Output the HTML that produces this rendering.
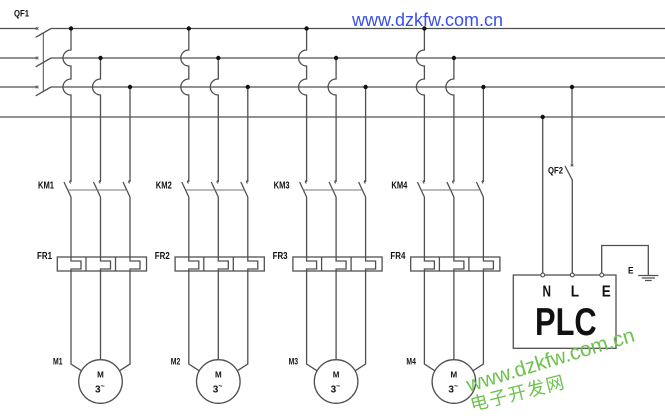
<!DOCTYPE html>
<html>
<head>
<meta charset="utf-8">
<style>
html,body{margin:0;padding:0;background:#fff;}
svg{display:block;}
text{font-family:"Liberation Sans","Noto Sans CJK SC",sans-serif;}
</style>
</head>
<body>
<svg width="665" height="416" viewBox="0 0 665 416" xmlns="http://www.w3.org/2000/svg">
<rect width="665" height="416" fill="#fff"/>

<!-- Bus lines with QF1 -->
<g stroke="#505050" stroke-width="1.3" fill="none">
  <path d="M0,28.5 H36 M51,28.5 H665"/>
  <path d="M0,58 H36 M51,58 H665"/>
  <path d="M0,87 H36 M51,87 H665"/>
  <path d="M0,117 H665"/>
  <path d="M35.7,37.3 L51,28.5 M35.7,66.8 L51,58 M35.7,95.8 L51,87"/>
  <path d="M43.3,33 V92" stroke-width="1"/>
  <path d="M35.8,27.2 l2.6,2.6 M38.4,27.2 l-2.6,2.6 M35.8,56.7 l2.6,2.6 M38.4,56.7 l-2.6,2.6 M35.8,85.7 l2.6,2.6 M38.4,85.7 l-2.6,2.6" stroke-width="1"/>
</g>
<text x="14" y="16.5" font-size="9" font-weight="bold" fill="#111" textLength="15" lengthAdjust="spacingAndGlyphs">QF1</text>

<g>
<g stroke="#505050" stroke-width="1.3" fill="none">
  <path d="M71,28.5 V50 A8,8 0 0 0 71,66 V79 A8,8 0 0 0 71,95 V182"/>
  <path d="M100.5,58 V79 A8,8 0 0 0 100.5,95 V182"/>
  <path d="M130,87 V182"/>
  <path d="M71,180.5 a1.3,1.3 0 0 0 0,2.6 M100.5,180.5 a1.3,1.3 0 0 0 0,2.6 M130,180.5 a1.3,1.3 0 0 0 0,2.6" stroke-width="1"/>
  <path d="M64,182 L71,197 M93.5,182 L100.5,197 M123,182 L130,197"/>
  <path d="M67.7,190 H126.7" stroke="#777" stroke-width="0.9"/>
  <path d="M71,197 V261 H81 V269 H71 V364 L81.5,370.8"/>
  <path d="M100.5,197 V261 H110.5 V269 H100.5 V359.7"/>
  <path d="M130,197 V261 H140 V269 H130 V364 L119.5,370.8"/>
  <rect x="57.3" y="257" width="89.2" height="14"/>
  <path d="M86,257 V271 M115.5,257 V271"/>
  <circle cx="100.5" cy="381.5" r="21.8"/>
</g>
<g fill="#111">
  <circle cx="71" cy="28.5" r="2.2"/>
  <circle cx="100.5" cy="58" r="2.2"/>
  <circle cx="130" cy="87" r="2.2"/>
</g>
<g fill="#111" font-weight="bold">
  <text x="38" y="188.5" font-size="10" textLength="16" lengthAdjust="spacingAndGlyphs">KM1</text>
  <text x="37" y="259" font-size="10" textLength="15" lengthAdjust="spacingAndGlyphs">FR1</text>
  <text x="53" y="364.5" font-size="9" textLength="9.5" lengthAdjust="spacingAndGlyphs">M1</text>
  <text x="100.5" y="377.5" font-size="8" text-anchor="middle">M</text>
  <text x="95" y="392.5" font-size="10">3<tspan dy="-4" font-size="7">~</tspan></text>
</g>
</g>

<g transform="translate(117.8,0)">
<g stroke="#505050" stroke-width="1.3" fill="none">
  <path d="M71,28.5 V50 A8,8 0 0 0 71,66 V79 A8,8 0 0 0 71,95 V182"/>
  <path d="M100.5,58 V79 A8,8 0 0 0 100.5,95 V182"/>
  <path d="M130,87 V182"/>
  <path d="M71,180.5 a1.3,1.3 0 0 0 0,2.6 M100.5,180.5 a1.3,1.3 0 0 0 0,2.6 M130,180.5 a1.3,1.3 0 0 0 0,2.6" stroke-width="1"/>
  <path d="M64,182 L71,197 M93.5,182 L100.5,197 M123,182 L130,197"/>
  <path d="M67.7,190 H126.7" stroke="#777" stroke-width="0.9"/>
  <path d="M71,197 V261 H81 V269 H71 V364 L81.5,370.8"/>
  <path d="M100.5,197 V261 H110.5 V269 H100.5 V359.7"/>
  <path d="M130,197 V261 H140 V269 H130 V364 L119.5,370.8"/>
  <rect x="57.3" y="257" width="89.2" height="14"/>
  <path d="M86,257 V271 M115.5,257 V271"/>
  <circle cx="100.5" cy="381.5" r="21.8"/>
</g>
<g fill="#111">
  <circle cx="71" cy="28.5" r="2.2"/>
  <circle cx="100.5" cy="58" r="2.2"/>
  <circle cx="130" cy="87" r="2.2"/>
</g>
<g fill="#111" font-weight="bold">
  <text x="38" y="188.5" font-size="10" textLength="16" lengthAdjust="spacingAndGlyphs">KM2</text>
  <text x="37" y="259" font-size="10" textLength="15" lengthAdjust="spacingAndGlyphs">FR2</text>
  <text x="53" y="364.5" font-size="9" textLength="9.5" lengthAdjust="spacingAndGlyphs">M2</text>
  <text x="100.5" y="377.5" font-size="8" text-anchor="middle">M</text>
  <text x="95" y="392.5" font-size="10">3<tspan dy="-4" font-size="7">~</tspan></text>
</g>
</g>

<g transform="translate(235.6,0)">
<g stroke="#505050" stroke-width="1.3" fill="none">
  <path d="M71,28.5 V50 A8,8 0 0 0 71,66 V79 A8,8 0 0 0 71,95 V182"/>
  <path d="M100.5,58 V79 A8,8 0 0 0 100.5,95 V182"/>
  <path d="M130,87 V182"/>
  <path d="M71,180.5 a1.3,1.3 0 0 0 0,2.6 M100.5,180.5 a1.3,1.3 0 0 0 0,2.6 M130,180.5 a1.3,1.3 0 0 0 0,2.6" stroke-width="1"/>
  <path d="M64,182 L71,197 M93.5,182 L100.5,197 M123,182 L130,197"/>
  <path d="M67.7,190 H126.7" stroke="#777" stroke-width="0.9"/>
  <path d="M71,197 V261 H81 V269 H71 V364 L81.5,370.8"/>
  <path d="M100.5,197 V261 H110.5 V269 H100.5 V359.7"/>
  <path d="M130,197 V261 H140 V269 H130 V364 L119.5,370.8"/>
  <rect x="57.3" y="257" width="89.2" height="14"/>
  <path d="M86,257 V271 M115.5,257 V271"/>
  <circle cx="100.5" cy="381.5" r="21.8"/>
</g>
<g fill="#111">
  <circle cx="71" cy="28.5" r="2.2"/>
  <circle cx="100.5" cy="58" r="2.2"/>
  <circle cx="130" cy="87" r="2.2"/>
</g>
<g fill="#111" font-weight="bold">
  <text x="38" y="188.5" font-size="10" textLength="16" lengthAdjust="spacingAndGlyphs">KM3</text>
  <text x="37" y="259" font-size="10" textLength="15" lengthAdjust="spacingAndGlyphs">FR3</text>
  <text x="53" y="364.5" font-size="9" textLength="9.5" lengthAdjust="spacingAndGlyphs">M3</text>
  <text x="100.5" y="377.5" font-size="8" text-anchor="middle">M</text>
  <text x="95" y="392.5" font-size="10">3<tspan dy="-4" font-size="7">~</tspan></text>
</g>
</g>

<g transform="translate(353.4,0)">
<g stroke="#505050" stroke-width="1.3" fill="none">
  <path d="M71,28.5 V50 A8,8 0 0 0 71,66 V79 A8,8 0 0 0 71,95 V182"/>
  <path d="M100.5,58 V79 A8,8 0 0 0 100.5,95 V182"/>
  <path d="M130,87 V182"/>
  <path d="M71,180.5 a1.3,1.3 0 0 0 0,2.6 M100.5,180.5 a1.3,1.3 0 0 0 0,2.6 M130,180.5 a1.3,1.3 0 0 0 0,2.6" stroke-width="1"/>
  <path d="M64,182 L71,197 M93.5,182 L100.5,197 M123,182 L130,197"/>
  <path d="M67.7,190 H126.7" stroke="#777" stroke-width="0.9"/>
  <path d="M71,197 V261 H81 V269 H71 V364 L81.5,370.8"/>
  <path d="M100.5,197 V261 H110.5 V269 H100.5 V359.7"/>
  <path d="M130,197 V261 H140 V269 H130 V364 L119.5,370.8"/>
  <rect x="57.3" y="257" width="89.2" height="14"/>
  <path d="M86,257 V271 M115.5,257 V271"/>
  <circle cx="100.5" cy="381.5" r="21.8"/>
</g>
<g fill="#111">
  <circle cx="71" cy="28.5" r="2.2"/>
  <circle cx="100.5" cy="58" r="2.2"/>
  <circle cx="130" cy="87" r="2.2"/>
</g>
<g fill="#111" font-weight="bold">
  <text x="38" y="188.5" font-size="10" textLength="16" lengthAdjust="spacingAndGlyphs">KM4</text>
  <text x="37" y="259" font-size="10" textLength="15" lengthAdjust="spacingAndGlyphs">FR4</text>
  <text x="53" y="364.5" font-size="9" textLength="9.5" lengthAdjust="spacingAndGlyphs">M4</text>
  <text x="100.5" y="377.5" font-size="8" text-anchor="middle">M</text>
  <text x="95" y="392.5" font-size="10">3<tspan dy="-4" font-size="7">~</tspan></text>
</g>
</g>

<!-- PLC section -->
<g stroke="#505050" stroke-width="1.3" fill="none">
  <path d="M542.7,117 V273.3"/>
  <path d="M572,87 V163.5"/>
  <path d="M570.7,163.8 l2.6,2.6 M573.3,163.8 l-2.6,2.6" stroke-width="1"/>
  <path d="M565,166 L572.3,180 V273.3"/>
  <path d="M601.7,273.3 V245.5 H648.3 V275.3"/>
  <path d="M638.3,275.5 H658.3 M641.7,278 H655 M645,280.5 H651.7"/>
  <rect x="513.3" y="275" width="102.7" height="73.3"/>
</g>
<g fill="#111">
  <circle cx="542.7" cy="117" r="2.2"/>
  <circle cx="572" cy="87" r="2.2"/>
</g>
<g fill="#fff" stroke="#505050" stroke-width="1.1">
  <circle cx="542.7" cy="275" r="1.9"/>
  <circle cx="572.3" cy="275" r="1.9"/>
  <circle cx="601.7" cy="275" r="1.9"/>
</g>
<g fill="#111">
  <text x="548" y="173.5" font-size="9.5" font-weight="bold" textLength="15" lengthAdjust="spacingAndGlyphs">QF2</text>
  <text x="628" y="273.3" font-size="9" font-weight="bold" textLength="5.5" lengthAdjust="spacingAndGlyphs">E</text>
  <text x="542.5" y="296.7" font-size="16" font-weight="bold" textLength="8.5" lengthAdjust="spacingAndGlyphs">N</text>
  <text x="570.7" y="296.7" font-size="16" font-weight="bold" textLength="8.3" lengthAdjust="spacingAndGlyphs">L</text>
  <text x="601.7" y="296.7" font-size="16" font-weight="bold" textLength="9" lengthAdjust="spacingAndGlyphs">E</text>
  <text x="535" y="335" font-size="38.5" font-weight="bold" textLength="61.7" lengthAdjust="spacingAndGlyphs">PLC</text>
</g>

<!-- Watermarks -->
<text x="352" y="26" font-size="18" fill="#3a4ef0">www.dzkfw.com.cn</text>
<text transform="translate(469,392) rotate(-17)" font-size="20.8" fill="#6cc24c">www.dzkfw.com.cn</text>
<text transform="translate(472,411) rotate(-14)" font-size="18" letter-spacing="1.5" fill="#6cc24c" style="font-family:'Noto Sans CJK SC','WenQuanYi Zen Hei',sans-serif;">电子开发网</text>
</svg>
</body>
</html>
